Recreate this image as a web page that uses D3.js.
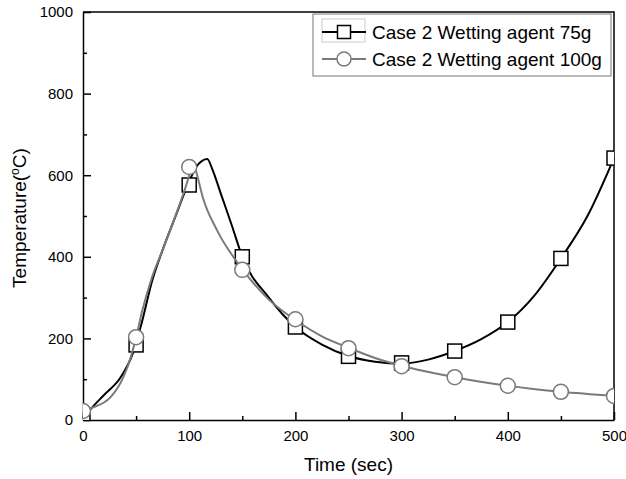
<!DOCTYPE html>
<html>
<head>
<meta charset="utf-8">
<script src="https://cdn.jsdelivr.net/npm/d3@7"></script>
<style>
  body { margin: 0; background: #fff; }
  svg text { font-family: "Liberation Sans", Arial, sans-serif; fill: #000; }
</style>
</head>
<body>
<div id="chart"></div>
<script>
// ticks
const xTicks = [0, 100, 200, 300, 400, 500];
const xMinorTicks = [50, 150, 250, 350, 450];
const yTicks = [0, 200, 400, 600, 800, 1000];
const yMinorTicks = [100, 300, 500, 700, 900];

// series names
const seriesNames = ["Case 2 Wetting agent 75g", "Case 2 Wetting agent 100g"];

// marker points (every 50 s)
const markerTimes = [0, 50, 100, 150, 200, 250, 300, 350, 400, 450, 500];
const markers75 = [3, 184, 576, 400, 228, 156, 140, 169, 240, 396, 642];
const markers100 = [22, 203, 620, 368, 247, 176, 132, 105, 84, 69, 59];

const lineTime75 = [0, 8, 20, 35, 47, 55, 65, 75, 88, 100, 108, 117, 122, 130, 140, 150, 175, 200, 225, 250, 275, 300, 325, 350, 375, 400, 425, 450, 475, 500];
const lineTemp75 = [5, 29, 62, 103, 164, 235, 340, 417, 505, 585, 625, 640, 613, 553, 478, 400, 300, 228, 185, 157, 143, 138, 148, 169, 198, 240, 305, 396, 500, 642];
const lineTime100 = [0, 7.5, 26, 38, 45, 50, 56, 65, 75, 88, 100, 103.5, 107, 113, 126, 150, 175, 200, 225, 250, 275, 300, 350, 400, 450, 500];
const lineTemp100 = [22, 29, 56, 105, 154, 203, 270, 350, 417, 507, 600, 635, 605, 544, 466, 370, 295, 245, 205, 177, 152, 133, 105, 84, 69, 59];

class TempChart {
  constructor(parentElement) {
    this.parentElement = parentElement;
    this.margin = { top: 12, right: 12, bottom: 59, left: 83 };
    this.width = 626 - this.margin.left - this.margin.right;
    this.height = 479 - this.margin.top - this.margin.bottom;
    this.initChart();
  }

  initChart() {
    let vis = this;
    vis.svg = d3.select(vis.parentElement)
      .append("svg")
      .attr("width", 626)
      .attr("height", 479)
      .append("g")
      .attr("transform", "translate(" + vis.margin.left + "," + vis.margin.top + ")");

    vis.x = d3.scaleLinear().domain([0, 500]).range([0, vis.width]);
    vis.y = d3.scaleLinear().domain([0, 1000]).range([vis.height, 0]);

    vis.svg.append("clipPath").attr("id", "plot-clip")
      .append("rect")
      .attr("width", vis.width)
      .attr("height", vis.height);

    vis.drawAxes();
    vis.drawSeries(lineTime75, lineTemp75, markers75, "#000", "square");
    vis.drawSeries(lineTime100, lineTemp100, markers100, "#7a7a7a", "circle");
    vis.drawLegend();
  }

  drawAxes() {
    let vis = this;

    // frame top / right
    vis.svg.append("path")
      .attr("d", "M0,0H" + vis.width + "V" + vis.height)
      .attr("fill", "none")
      .attr("stroke", "#000")
      .attr("stroke-width", 1.5);

    const xAxis = vis.svg.append("g")
      .attr("transform", "translate(0," + vis.height + ")")
      .call(d3.axisBottom(vis.x).tickValues(xTicks).tickFormat(d3.format("d"))
        .tickSizeInner(-8).tickSizeOuter(0).tickPadding(10));
    vis.svg.append("g")
      .attr("transform", "translate(0," + vis.height + ")")
      .call(d3.axisBottom(vis.x).tickValues(xMinorTicks).tickSizeInner(-4).tickSizeOuter(0).tickFormat(""))
      .select(".domain").remove();

    const yAxis = vis.svg.append("g")
      .call(d3.axisLeft(vis.y).tickValues(yTicks).tickFormat(d3.format("d"))
        .tickSizeInner(-8).tickSizeOuter(0).tickPadding(10));
    vis.svg.append("g")
      .call(d3.axisLeft(vis.y).tickValues(yMinorTicks).tickSizeInner(-4).tickSizeOuter(0).tickFormat(""))
      .select(".domain").remove();

    vis.svg.selectAll(".domain, .tick line")
      .attr("stroke", "#000")
      .attr("stroke-width", 1.5);
    xAxis.selectAll("text").style("font-size", "15px").attr("font-family", null);
    yAxis.selectAll("text").style("font-size", "15px").attr("font-family", null);

    // axis titles
    vis.svg.append("text")
      .attr("x", vis.width / 2)
      .attr("y", vis.height + 51)
      .style("text-anchor", "middle")
      .style("font-size", "19px")
      .text("Time (sec)");

    const yLabel = vis.svg.append("text")
      .attr("transform", "rotate(-90)")
      .attr("x", -206)
      .attr("y", -vis.margin.left + 26)
      .style("text-anchor", "middle")
      .style("font-size", "19px");
    yLabel.append("tspan").text("Temperature(");
    yLabel.append("tspan").attr("dy", -7).style("font-size", "12px").text("o");
    yLabel.append("tspan").attr("dy", 7).text("C)");
  }

  drawSeries(times, temps, markerVals, color, shape) {
    let vis = this;
    const lineData = times.map((t, i) => ({ t: t, v: temps[i] }));
    const markData = markerTimes.map((t, i) => ({ t: t, v: markerVals[i] }));

    const line = d3.line()
      .x(d => vis.x(d.t))
      .y(d => vis.y(d.v))
      .curve(d3.curveMonotoneX);

    vis.svg.append("path")
      .datum(lineData)
      .attr("d", line)
      .attr("fill", "none")
      .attr("stroke", color)
      .attr("stroke-width", 2);

    const g = vis.svg.append("g").attr("clip-path", "url(#plot-clip)");
    if (shape === "square") {
      g.selectAll("rect")
        .data(markData)
        .join("rect")
        .attr("x", d => vis.x(d.t) - 7)
        .attr("y", d => vis.y(d.v) - 7)
        .attr("width", 14)
        .attr("height", 14)
        .attr("fill", "#fff")
        .attr("stroke", color)
        .attr("stroke-width", 1.5);
    } else {
      g.selectAll("circle")
        .data(markData)
        .join("circle")
        .attr("cx", d => vis.x(d.t))
        .attr("cy", d => vis.y(d.v))
        .attr("r", 7.5)
        .attr("fill", "#fff")
        .attr("stroke", color)
        .attr("stroke-width", 1.5);
    }
  }

  drawLegend() {
    let vis = this;
    const lg = vis.svg.append("g")
      .attr("transform", "translate(" + (313 - vis.margin.left) + "," + (14 - vis.margin.top) + ")");

    lg.append("rect")
      .attr("width", 298)
      .attr("height", 62)
      .attr("fill", "#fff")
      .attr("stroke", "#777")
      .attr("stroke-width", 1);

    // faint selection box around first symbol
    lg.append("rect")
      .attr("x", 9).attr("y", 5)
      .attr("width", 43).attr("height", 23)
      .attr("fill", "none")
      .attr("stroke", "#ccc")
      .attr("stroke-width", 1);

    const rows = [
      { name: seriesNames[0], color: "#000", shape: "square", cy: 18 },
      { name: seriesNames[1], color: "#7a7a7a", shape: "circle", cy: 45 }
    ];

    rows.forEach(r => {
      lg.append("line")
        .attr("x1", 9).attr("x2", 53)
        .attr("y1", r.cy).attr("y2", r.cy)
        .attr("stroke", r.color)
        .attr("stroke-width", 2);
      if (r.shape === "square") {
        lg.append("rect")
          .attr("x", 31 - 6.5).attr("y", r.cy - 6.5)
          .attr("width", 13).attr("height", 13)
          .attr("fill", "#fff")
          .attr("stroke", r.color)
          .attr("stroke-width", 1.5);
      } else {
        lg.append("circle")
          .attr("cx", 31).attr("cy", r.cy)
          .attr("r", 7)
          .attr("fill", "#fff")
          .attr("stroke", r.color)
          .attr("stroke-width", 1.5);
      }
      lg.append("text")
        .attr("x", 59)
        .attr("y", r.cy + 7)
        .style("font-size", "19px")
        .text(r.name);
    });
  }
}

new TempChart("#chart");
</script>
</body>
</html>
